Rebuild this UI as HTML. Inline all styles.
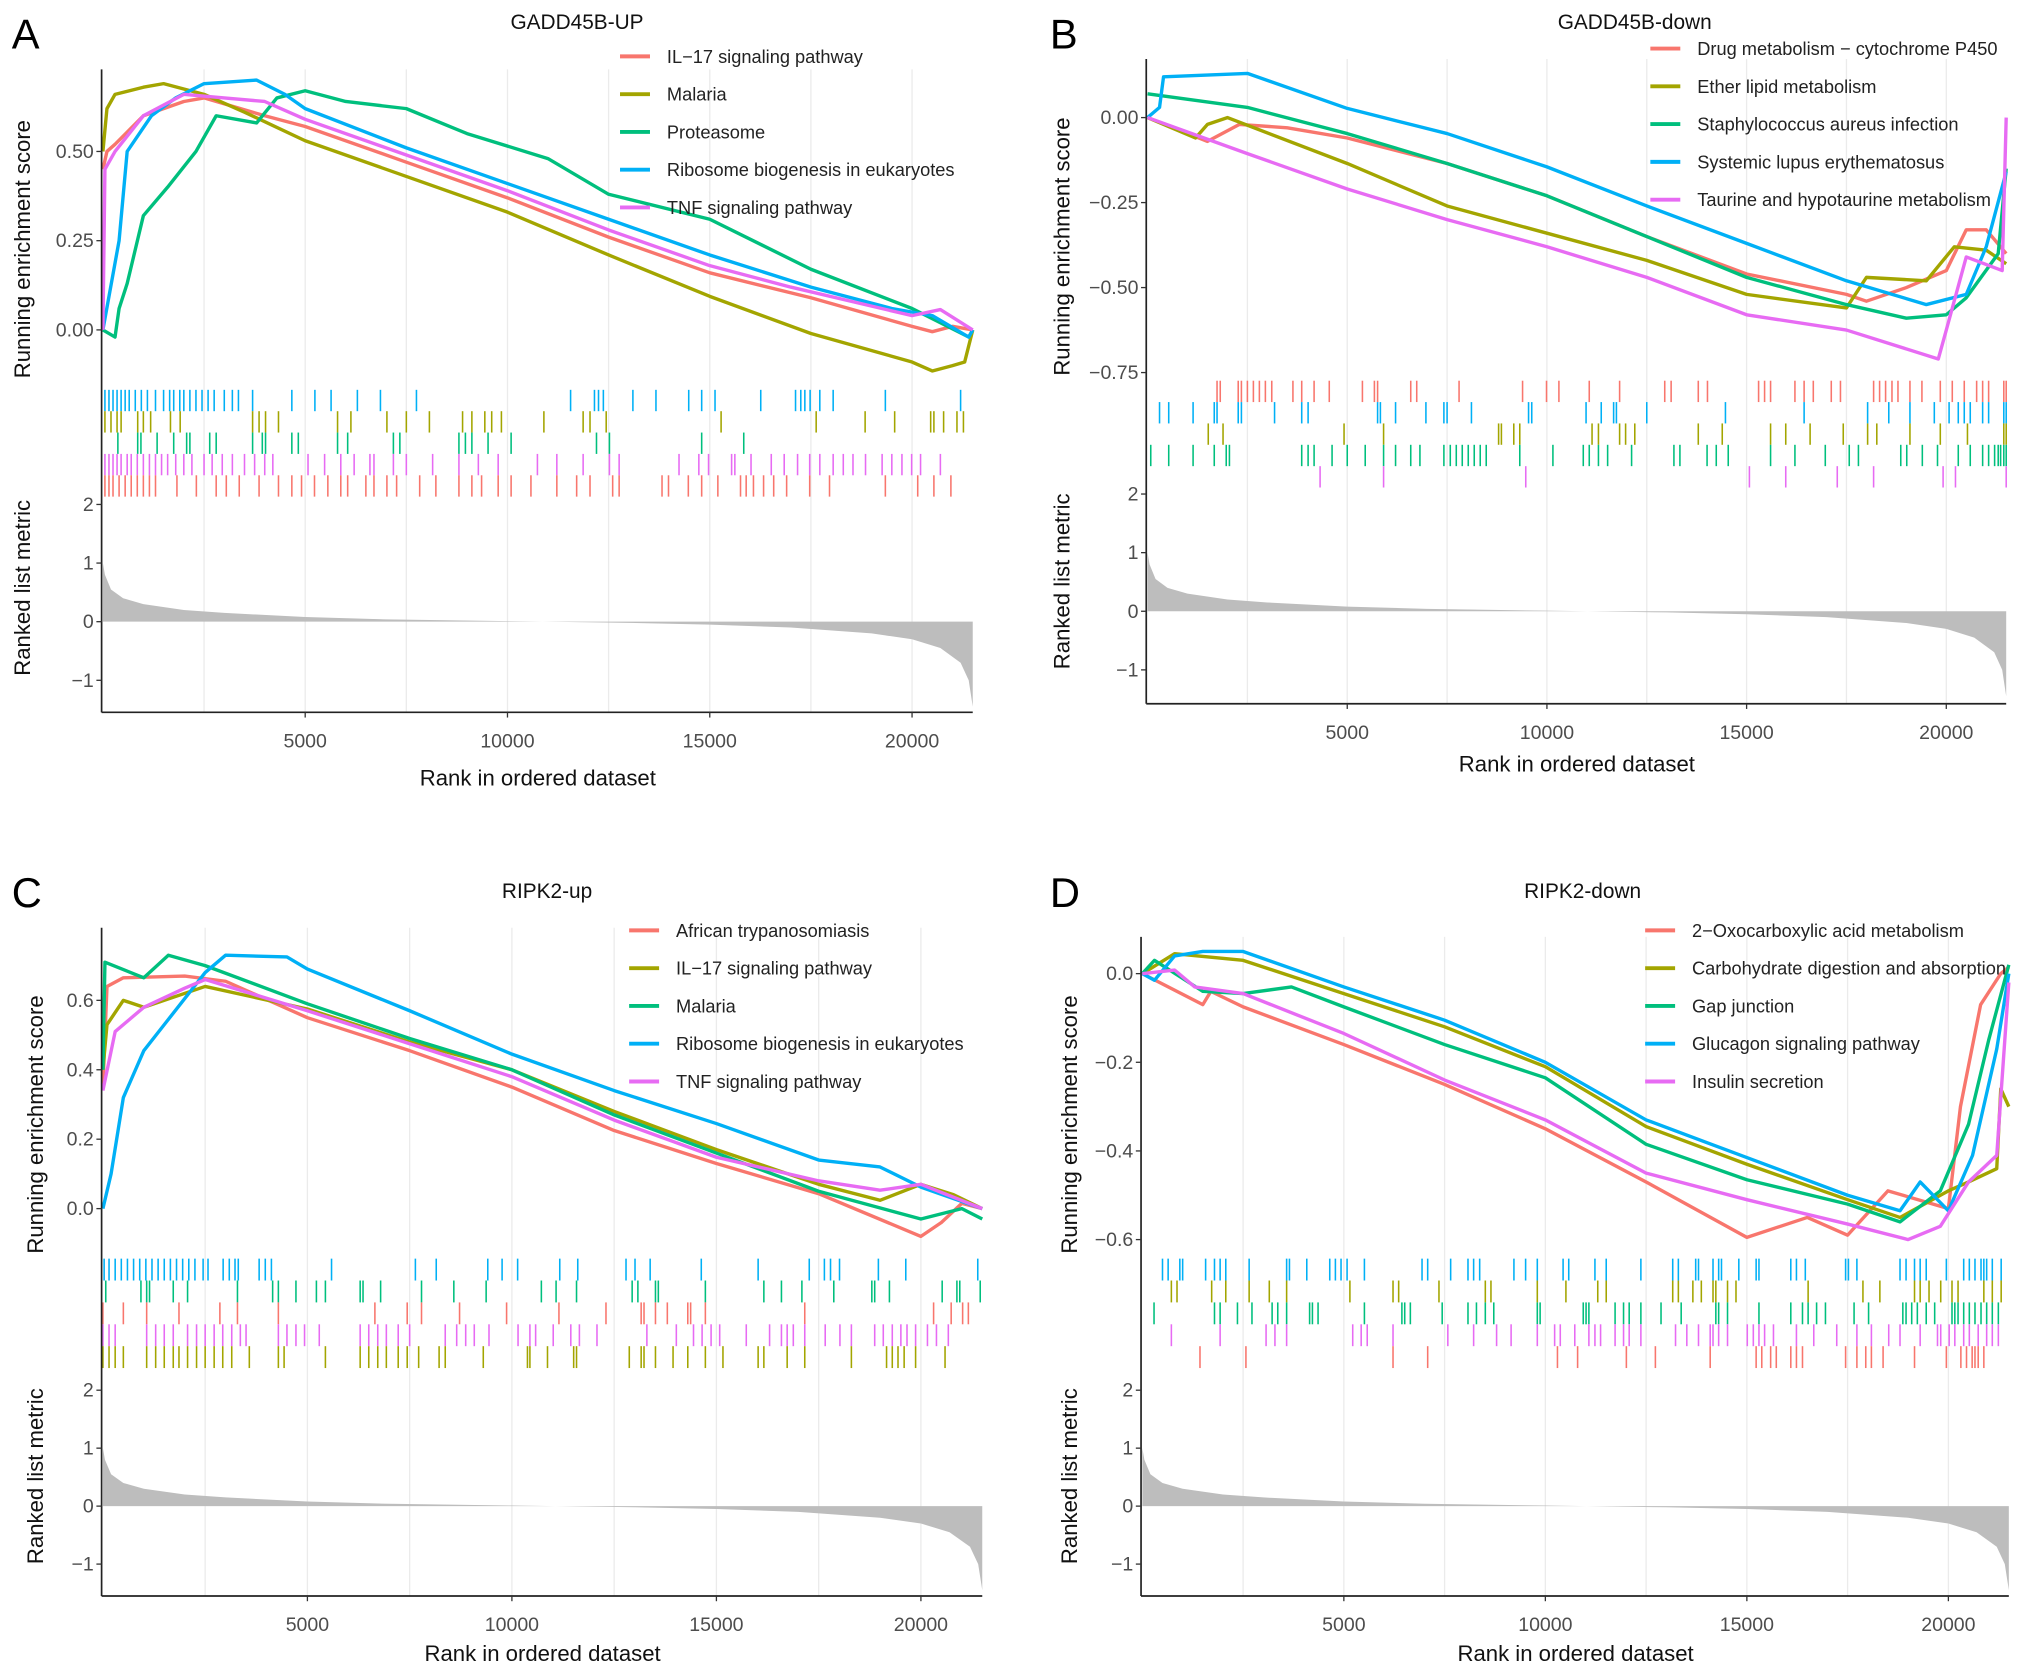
<!DOCTYPE html>
<html><head><meta charset="utf-8"><style>
html,body{margin:0;padding:0;background:#fff;}
svg{display:block;font-family:"Liberation Sans",Arial,sans-serif;}
</style></head><body>
<svg id="fig" width="2032" height="1668" viewBox="0 0 1560 1280" xmlns="http://www.w3.org/2000/svg"></svg>
<script>
// ---------- shared ranked list metric ----------
const metricRanks = [0,50,200,500,1000,2000,3000,5000,7000,10000,13000,15000,17000,19000,20000,20700,21200,21400,21500];
const metricVals  = [1.0,0.8,0.55,0.4,0.3,0.2,0.15,0.08,0.04,0.01,-0.02,-0.05,-0.1,-0.2,-0.3,-0.45,-0.7,-1.0,-1.45];
const xTickVals = [5000,10000,15000,20000];
const xTickLabels = ["5000","10000","15000","20000"];
const metricTickVals = [2,1,0,-1];
const metricTickLabels = ["2","1","0","\u22121"];

// ---------- Panel A ----------
const A_names = ["IL\u221217 signaling pathway","Malaria","Proteasome","Ribosome biogenesis in eukaryotes","TNF signaling pathway"];
const A_yTicks = [0,0.25,0.5];
const A_yTickLabels = ["0.00","0.25","0.50"];
const A_red_r = [0,100,300,1000,2000,2500,4000,5000,7500,10000,12500,15000,17500,20000,20500,21000,21500];
const A_red_v = [0.45,0.5,0.52,0.6,0.64,0.65,0.6,0.57,0.47,0.37,0.26,0.16,0.09,0.01,-0.005,0.01,0];
const A_olive_r = [0,100,300,1000,1500,2500,3500,5000,7500,10000,12500,15000,17500,20000,20500,21000,21300,21500];
const A_olive_v = [0.5,0.62,0.66,0.68,0.69,0.66,0.61,0.53,0.43,0.33,0.21,0.094,-0.01,-0.09,-0.115,-0.1,-0.09,0];
const A_green_r = [0,300,400,600,1000,1600,2300,2800,3800,4300,5000,6000,7500,9000,11000,12500,15000,17500,20000,21400,21500];
const A_green_v = [0,-0.02,0.06,0.13,0.32,0.4,0.5,0.6,0.58,0.65,0.67,0.64,0.62,0.55,0.48,0.38,0.31,0.17,0.06,-0.02,0];
const A_blue_r = [0,400,600,1200,1800,2500,3800,4500,5000,7500,10000,12500,15000,17500,19500,20500,21400,21500];
const A_blue_v = [0,0.25,0.5,0.6,0.65,0.69,0.7,0.66,0.62,0.51,0.41,0.31,0.21,0.12,0.06,0.04,-0.02,0];
const A_mag_r = [0,50,300,1000,2000,3000,4000,5000,7500,10000,12500,15000,17000,20000,20700,21500];
const A_mag_v = [0,0.45,0.5,0.6,0.66,0.65,0.64,0.59,0.49,0.39,0.28,0.18,0.12,0.04,0.057,0];
const A_red_hits = [50,150,250,400,550,700,850,1000,1150,1300,1830,2310,2800,3050,3370,3860,4340,4670,4910,5230,5560,5880,6050,6500,6700,7020,7260,7830,8230,8800,9120,9360,9770,10090,10580,11220,11710,12040,12600,12760,13820,13980,14470,14800,15200,15760,15900,16080,16330,16580,16900,17470,17960,19340,20140,20540,20960];
const A_olive_hits = [50,200,350,450,860,1000,1180,1670,1910,3700,3860,4020,4340,5800,6130,7020,7500,8070,8890,9120,9440,9610,9850,10900,11870,12040,12440,15280,17630,18840,19570,20460,20540,20780,21110,21270];
const A_green_hits = [370,860,940,1340,1750,2070,2150,2640,2800,3700,3940,4020,4670,4830,5800,6050,7180,7340,8800,8960,9120,9520,10090,12200,12520,14800,15840];
const A_blue_hits = [50,150,250,350,450,550,650,800,950,1100,1300,1500,1650,1750,1900,2000,2150,2300,2450,2600,2750,3000,3200,3350,3700,4670,5240,5640,6290,6860,7750,11560,12150,12250,12370,13100,13670,14480,14800,15130,16260,17120,17250,17350,17480,17720,18050,19340,21200];
const A_mag_hits = [50,150,250,350,450,600,700,850,1000,1150,1300,1450,1600,1800,2000,2200,2500,2700,2950,3200,3500,3750,4000,4200,5070,5480,5880,6210,6600,6700,7180,7500,8150,8800,9280,9770,10740,11220,11870,12520,12760,14240,14730,14970,15540,15620,16020,16520,16840,17170,17470,17720,18050,18300,18540,18850,19260,19500,19750,19990,20210,20700];

// ---------- Panel B ----------
const B_names = ["Drug metabolism \u2212 cytochrome P450","Ether lipid metabolism","Staphylococcus aureus infection","Systemic lupus erythematosus","Taurine and hypotaurine metabolism"];
const B_yTicks = [0,-0.25,-0.5,-0.75];
const B_yTickLabels = ["0.00","\u22120.25","\u22120.50","\u22120.75"];
const B_red_r = [0,1500,2300,3500,5000,7500,10000,12500,15000,17500,18000,19000,20000,20500,21000,21500];
const B_red_v = [0,-0.07,-0.02,-0.03,-0.06,-0.135,-0.23,-0.35,-0.46,-0.52,-0.54,-0.5,-0.45,-0.33,-0.33,-0.4];
const B_olive_r = [0,1200,1500,2000,5000,7500,10000,12500,15000,17500,18000,19500,20200,21000,21500];
const B_olive_v = [0,-0.06,-0.02,0,-0.135,-0.26,-0.34,-0.42,-0.52,-0.56,-0.47,-0.48,-0.38,-0.39,-0.43];
const B_green_r = [0,2500,5000,7500,10000,12500,15000,17500,19000,20000,20500,21300,21500];
const B_green_v = [0.07,0.03,-0.047,-0.135,-0.23,-0.35,-0.47,-0.55,-0.59,-0.58,-0.53,-0.4,-0.15];
const B_blue_r = [0,300,400,2500,5000,7500,10000,12500,15000,17500,19500,20500,21000,21500];
const B_blue_v = [0,0.03,0.12,0.13,0.027,-0.047,-0.145,-0.26,-0.37,-0.48,-0.55,-0.52,-0.38,-0.16];
const B_mag_r = [0,2500,5000,7500,10000,12500,15000,17500,19800,20000,20500,21400,21500];
const B_mag_v = [0,-0.106,-0.21,-0.3,-0.38,-0.47,-0.58,-0.625,-0.71,-0.625,-0.41,-0.45,0];
const B_red_hits = [1740,1820,2270,2350,2500,2650,2800,2950,3110,3640,3860,4170,4550,5380,5680,5760,6590,6740,7800,9390,9990,10300,11060,11820,12950,13110,13790,14020,15300,15450,15600,16210,16440,16670,17120,17350,18180,18330,18480,18640,18790,19090,19390,19850,20150,20450,20760,20910,21060,21440,21500];
const B_olive_hits = [1520,1890,4920,5910,8790,8860,9170,9320,11130,11290,11820,11970,12200,13790,14390,15600,15980,16590,17420,18030,18260,19090,19850,20530,21440,21500];
const B_green_hits = [80,530,1140,1670,1970,2050,3860,4020,4170,4620,5000,5450,5910,6210,6590,6820,7420,7580,7730,7880,8030,8180,8330,8480,9320,10150,10910,11060,11290,11520,12120,13180,13330,14010,14240,14540,15600,16210,16970,17570,17800,18860,19010,19400,19780,20300,20600,20910,21060,21210,21300,21360,21440,21500];
const B_blue_hits = [300,530,1140,1670,1740,2270,2350,3180,3860,4020,5760,5830,6210,6970,7420,7500,8110,9540,9620,10980,11360,11670,11740,12500,14470,16440,18030,18560,19090,19700,20070,20300,20450,20600,20910,21060,21440,21500];
const B_mag_hits = [4320,5910,9470,15070,15980,17270,18180,19920,20230,21500];

// ---------- Panel C ----------
const C_names = ["African trypanosomiasis","IL\u221217 signaling pathway","Malaria","Ribosome biogenesis in eukaryotes","TNF signaling pathway"];
const C_yTicks = [0,0.2,0.4,0.6];
const C_yTickLabels = ["0.0","0.2","0.4","0.6"];
const C_red_r = [0,100,500,2000,3000,5000,7500,10000,12500,15000,17500,20000,20500,21000,21500];
const C_red_v = [0.35,0.64,0.665,0.67,0.655,0.55,0.455,0.35,0.225,0.13,0.043,-0.08,-0.04,0.015,0];
const C_olive_r = [0,100,500,1000,2500,5000,7500,10000,12500,15000,17500,19000,20000,20800,21500];
const C_olive_v = [0.4,0.53,0.6,0.58,0.64,0.575,0.48,0.4,0.28,0.17,0.07,0.024,0.07,0.04,0];
const C_green_r = [0,50,1000,1600,2500,5000,7500,10000,12500,15000,17500,20000,21000,21500];
const C_green_v = [0.4,0.71,0.665,0.73,0.7,0.59,0.49,0.4,0.27,0.16,0.05,-0.03,0,-0.03];
const C_blue_r = [0,200,500,1000,1500,2500,3000,4500,5000,7500,10000,12500,15000,17500,19000,20000,21500];
const C_blue_v = [0,0.1,0.32,0.455,0.53,0.68,0.73,0.725,0.69,0.57,0.445,0.34,0.245,0.14,0.12,0.062,0];
const C_mag_r = [0,300,1000,2000,2500,5000,7500,10000,12500,15000,17500,19000,20000,21500];
const C_mag_v = [0.34,0.51,0.58,0.635,0.66,0.57,0.475,0.38,0.255,0.148,0.08,0.053,0.07,0];
const C_red_hits = [0,500,1070,1860,2860,3290,4290,6650,7440,7790,8720,9870,11150,12300,13160,13230,13510,13800,14300,14370,14730,17160,20310,20740,21020,21160];
const C_olive_hits = [0,150,300,500,1070,1290,1500,1720,1860,2070,2290,2500,2720,2930,3150,3580,4290,4430,5440,6290,6500,6720,6930,7220,7440,7720,8220,8370,9300,10380,10440,10870,11510,11580,12870,13160,13230,13510,13940,14300,14730,15160,16020,16160,16730,17160,18300,19160,19300,19440,19590,19870,20590];
const C_green_hits = [70,930,1070,1140,1720,2070,3290,4150,4290,4720,5220,5440,6290,6360,6790,7790,8580,9370,10720,11080,11580,12940,13080,13510,13580,14730,16160,16590,17090,17870,18800,18870,19230,20520,20880,20950,21450];
const C_blue_hits = [30,150,300,450,600,750,900,1050,1200,1350,1500,1650,1800,1950,2100,2250,2450,2570,2940,3090,3230,3310,3820,3970,4120,5590,7640,8150,9410,9760,10140,11170,11610,12790,13010,13380,14630,16020,17270,17640,17790,18010,18960,19630,21390];
const C_mag_hits = [0,150,300,1070,1290,1500,1720,2070,2290,2500,2720,2930,3150,3360,3500,4290,4500,4720,4930,5290,6290,6500,6720,6930,7220,7500,8370,8650,8870,9080,9440,10150,10440,10580,11010,11440,11650,12080,13300,14020,14440,14650,14870,15080,15730,16300,16590,16730,16880,17160,17660,18020,18300,18870,19080,19300,19510,19660,19870,20160,20380,20670];

// ---------- Panel D ----------
const D_names = ["2\u2212Oxocarboxylic acid metabolism","Carbohydrate digestion and absorption","Gap junction","Glucagon signaling pathway","Insulin secretion"];
const D_yTicks = [0,-0.2,-0.4,-0.6];
const D_yTickLabels = ["0.0","\u22120.2","\u22120.4","\u22120.6"];
const D_red_r = [0,1500,1700,2500,5000,7500,10000,12500,15000,16500,17500,18500,20000,20300,20800,21300,21500];
const D_red_v = [0,-0.07,-0.04,-0.075,-0.16,-0.25,-0.35,-0.47,-0.595,-0.55,-0.59,-0.49,-0.53,-0.3,-0.07,0,0.015];
const D_olive_r = [0,800,2500,5000,7500,10000,12500,15000,17500,18800,20000,20500,21200,21300,21500];
const D_olive_v = [0,0.045,0.03,-0.045,-0.12,-0.21,-0.345,-0.43,-0.51,-0.55,-0.49,-0.47,-0.44,-0.26,-0.3];
const D_green_r = [0,300,1500,2500,3700,5000,7500,10000,12500,15000,17500,18800,19800,20500,21000,21500];
const D_green_v = [0,0.03,-0.04,-0.045,-0.03,-0.075,-0.16,-0.235,-0.385,-0.465,-0.52,-0.56,-0.49,-0.34,-0.15,0.02];
const D_blue_r = [0,300,800,1500,2500,5000,7500,10000,12500,15000,17500,18800,19300,20000,20600,21200,21500];
const D_blue_v = [0,-0.015,0.04,0.05,0.05,-0.03,-0.105,-0.2,-0.33,-0.415,-0.5,-0.535,-0.47,-0.535,-0.41,-0.17,0];
const D_mag_r = [0,800,1300,2500,5000,7500,10000,12500,15000,17500,19000,19800,20500,21200,21500];
const D_mag_v = [0,0.008,-0.03,-0.045,-0.135,-0.24,-0.33,-0.45,-0.51,-0.565,-0.6,-0.57,-0.47,-0.41,-0.02];
const D_red_hits = [1430,2570,6220,7080,10300,10800,12010,12730,14090,15230,15370,15590,15730,16090,16230,16380,17450,17730,17950,18090,18380,19160,19950,20310,20450,20590,20660,20740,20880];
const D_olive_hits = [720,860,1720,2070,2650,3150,3580,5150,6220,6360,7360,8510,8650,9800,10510,11300,11510,13160,13300,13660,13870,14160,14230,14520,14730,16520,17880,18300,19160,19300,19520,19810,20090,20240,20880,21090,21310];
const D_green_hits = [290,1790,1930,2360,2720,3220,3360,3580,4150,4220,4360,5510,6440,6510,6650,7440,8080,8290,8510,8720,9800,9870,10940,11010,11080,11730,11940,12080,12370,12870,13370,14230,14300,14520,15300,16090,16380,16520,16730,16950,17660,18020,18870,18950,19090,19230,19450,19660,20090,20160,20240,20380,20520,20660,20810,20950,21090,21240];
const D_blue_hits = [500,640,930,1000,1570,1790,1930,2070,2650,3580,3650,4080,4650,4790,4930,5080,5510,6940,7080,7650,8080,8220,8370,9220,9510,9800,10440,10580,11230,11510,12370,13160,13300,13730,13800,14160,14300,14370,14800,15230,15300,16090,16230,16450,17450,17520,17730,18800,18950,19160,19300,19450,19950,20380,20520,20660,20810,20880,20950,21090,21310];
const D_mag_hits = [720,1930,3070,3290,3580,5220,5430,5580,6220,7580,8220,8790,9150,9800,10230,10370,10730,11080,11230,11370,11730,11940,12080,12370,13230,13510,13800,14090,14160,14300,14520,15010,15160,15300,15440,15660,16230,16660,17230,17730,18090,18520,18800,19300,19730,19810,20020,20160,20380,20520,20740,20950,21090,21240];

const COLORS = ["#F8766D","#A3A500","#00BF7D","#00B0F6","#E76BF3"];
const NS = "http://www.w3.org/2000/svg";
const svg = document.getElementById('fig');
function mk(tag, attrs, parent){
  const e = document.createElementNS(NS, tag);
  for (const k in attrs) e.setAttribute(k, attrs[k]);
  (parent||svg).appendChild(e);
  return e;
}

function drawPanel(cfg, series){
  const g = mk('g', {});
  
  
  const xs = r => cfg.x0 + r * cfg.k;
  const ys = v => cfg.yZero - v * cfg.yScale;
  const ms = v => cfg.mZero - v * cfg.mScale;
  const xEnd = xs(21500);
  for (let r = 2500; r < 21500; r += 2500){
    const gl = mk('line', {x1:xs(r), x2:xs(r), y1:cfg.top, y2:cfg.axisY, stroke:'#ebebeb', 'stroke-width':1}, g);
    
    
  }
  let d = 'M' + xs(metricRanks[0]) + ',' + ms(0);
  for (let i = 0; i < metricRanks.length; i++) d += ' L' + xs(metricRanks[i]) + ',' + ms(metricVals[i]);
  d += ' L' + xs(metricRanks[metricRanks.length-1]) + ',' + ms(0) + ' Z';
  const area = mk('path', {d:d, fill:'#bdbdbd', stroke:'none'}, g);
  
  
  const rowH = (cfg.rugBot - cfg.rugTop) / 5;
  cfg.rugOrder.forEach((si, row) => {
    const s = series[si];
    const rg = mk('g', {}, g);
    
    
    s.hits.forEach(h => {
      const t = mk('line', {x1:xs(h), x2:xs(h), y1:cfg.rugTop + row*rowH, y2:cfg.rugTop + (row+1)*rowH, stroke:COLORS[si], 'stroke-width':1.2}, rg);
      
      
    });
  });
  series.forEach((s, si) => {
    const pts = s.r.map((r, i) => xs(r) + ',' + ys(s.v[i])).join(' ');
    const pl = mk('polyline', {points:pts, fill:'none', stroke:COLORS[si], 'stroke-width':2.6, 'stroke-linejoin':'round'}, g);
    
    
  });
  const ya = mk('line', {x1:cfg.x0-1, x2:cfg.x0-1, y1:cfg.top, y2:cfg.axisY, stroke:'#222', 'stroke-width':1.3}, g);
  
  
  const xa = mk('line', {x1:cfg.x0-1, x2:xEnd, y1:cfg.axisY, y2:cfg.axisY, stroke:'#222', 'stroke-width':1.3}, g);
  
  
  cfg.yTicks.forEach((v, i) => {
    const y = ys(v);
    mk('line', {x1:cfg.x0-5, x2:cfg.x0-1, y1:y, y2:y, stroke:'#333', 'stroke-width':1}, g);
    const t = mk('text', {x:cfg.x0-7, y:y+5, 'text-anchor':'end', 'font-size':15, fill:'#4d4d4d'}, g);
    t.textContent = cfg.yTickLabels[i];
    
    
  });
  metricTickVals.forEach((v, i) => {
    const y = ms(v);
    mk('line', {x1:cfg.x0-5, x2:cfg.x0-1, y1:y, y2:y, stroke:'#333', 'stroke-width':1}, g);
    const t = mk('text', {x:cfg.x0-7, y:y+5, 'text-anchor':'end', 'font-size':15, fill:'#4d4d4d'}, g);
    t.textContent = metricTickLabels[i];
    
    
  });
  xTickVals.forEach((r, i) => {
    const x = xs(r);
    mk('line', {x1:x, x2:x, y1:cfg.axisY, y2:cfg.axisY+4, stroke:'#333', 'stroke-width':1}, g);
    const t = mk('text', {x:x, y:cfg.axisY+cfg.tickOff, 'text-anchor':'middle', 'font-size':15, fill:'#4d4d4d'}, g);
    t.textContent = xTickLabels[i];
    
    
  });
  const xt = mk('text', {x:(cfg.x0+xEnd)/2, y:cfg.axisY+cfg.titleOff, 'text-anchor':'middle', 'font-size':17, fill:'#111'}, g);
  xt.textContent = 'Rank in ordered dataset';
  
  
  const yt1 = mk('text', {x:0, y:0, 'text-anchor':'middle', 'font-size':17, fill:'#111', transform:'translate(' + (cfg.yTitleX) + ',' + cfg.esTitleY + ') rotate(-90)'}, g);
  yt1.textContent = 'Running enrichment score';
  
  
  const yt2 = mk('text', {x:0, y:0, 'text-anchor':'middle', 'font-size':17, fill:'#111', transform:'translate(' + (cfg.yTitleX) + ',' + cfg.mTitleY + ') rotate(-90)'}, g);
  yt2.textContent = 'Ranked list metric';
  
  
  const tt = mk('text', {x:cfg.titleX, y:cfg.titleY, 'text-anchor':'middle', 'font-size':16, fill:'#111'}, g);
  tt.textContent = cfg.title;
  
  
  const lt = mk('text', {x:cfg.letterX, y:cfg.letterY, 'font-size':32, fill:'#000'}, g);
  lt.textContent = cfg.letter;
  
  
  series.forEach((s, si) => {
    const y = cfg.legY + si * 29;
    const lg = mk('g', {}, g);
    
    
    mk('line', {x1:cfg.legX, x2:cfg.legX+23, y1:y, y2:y, stroke:COLORS[si], 'stroke-width':3}, lg);
    const t = mk('text', {x:cfg.legX+36, y:y+5, 'font-size':14, fill:'#222'}, lg);
    t.textContent = s.name;
  });
}

function mkSeries(names, keys, rs, vs, hits){
  return names.map((n, i) => ({name:n, key:keys[i], r:rs[i], v:vs[i], hits:hits[i]}));
}
const keys = ['red','olive','green','blue','magenta'];

drawPanel({letter:'A', title:'GADD45B-UP', titleX:443, titleY:22, letterX:9, letterY:37,
  x0:79, k:155.3/5000, yZero:253, yScale:274, top:53, rugTop:299, rugBot:381, mZero:477, mScale:45, axisY:546.6, tickOff:27, titleOff:56,
  yTicks:A_yTicks, yTickLabels:A_yTickLabels, rugOrder:[3,1,2,4,0], yTitleX:23, esTitleY:191, mTitleY:451, legX:476, legY:43},
  mkSeries(A_names, keys, [A_red_r,A_olive_r,A_green_r,A_blue_r,A_mag_r], [A_red_v,A_olive_v,A_green_v,A_blue_v,A_mag_v], [A_red_hits,A_olive_hits,A_green_hits,A_blue_hits,A_mag_hits]));

drawPanel({letter:'B', title:'GADD45B-down', titleX:1255, titleY:22, letterX:806, letterY:37,
  x0:881, k:153.3/5000, yZero:90, yScale:261, top:45, rugTop:292, rugBot:374, mZero:469, mScale:45, axisY:540, tickOff:27, titleOff:52,
  yTicks:B_yTicks, yTickLabels:B_yTickLabels, rugOrder:[0,3,1,2,4], yTitleX:821, esTitleY:189, mTitleY:446, legX:1267, legY:37},
  mkSeries(B_names, keys, [B_red_r,B_olive_r,B_green_r,B_blue_r,B_mag_r], [B_red_v,B_olive_v,B_green_v,B_blue_v,B_mag_v], [B_red_hits,B_olive_hits,B_green_hits,B_blue_hits,B_mag_hits]));

drawPanel({letter:'C', title:'RIPK2-up', titleX:420, titleY:689, letterX:9, letterY:696,
  x0:79, k:157/5000, yZero:927.6, yScale:266.5, top:712, rugTop:966, rugBot:1050, mZero:1156, mScale:44.5, axisY:1225, tickOff:27, titleOff:50,
  yTicks:C_yTicks, yTickLabels:C_yTickLabels, rugOrder:[3,2,0,4,1], yTitleX:33, esTitleY:863, mTitleY:1133, legX:483, legY:714},
  mkSeries(C_names, keys, [C_red_r,C_olive_r,C_green_r,C_blue_r,C_mag_r], [C_red_v,C_olive_v,C_green_v,C_blue_v,C_mag_v], [C_red_hits,C_olive_hits,C_green_hits,C_blue_hits,C_mag_hits]));

drawPanel({letter:'D', title:'RIPK2-down', titleX:1215, titleY:689, letterX:806, letterY:696,
  x0:877, k:154.7/5000, yZero:747.2, yScale:340.3, top:719, rugTop:966, rugBot:1050, mZero:1156, mScale:44.5, axisY:1225, tickOff:27, titleOff:50,
  yTicks:D_yTicks, yTickLabels:D_yTickLabels, rugOrder:[3,1,2,4,0], yTitleX:827, esTitleY:863, mTitleY:1133, legX:1263, legY:714},
  mkSeries(D_names, keys, [D_red_r,D_olive_r,D_green_r,D_blue_r,D_mag_r], [D_red_v,D_olive_v,D_green_v,D_blue_v,D_mag_v], [D_red_hits,D_olive_hits,D_green_hits,D_blue_hits,D_mag_hits]));
</script>
</body></html>
